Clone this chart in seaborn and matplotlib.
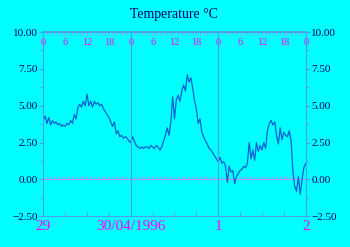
import numpy as np
import pandas as pd
import matplotlib
matplotlib.use("Agg")
import matplotlib.pyplot as plt
import seaborn as sns
from matplotlib.ticker import MultipleLocator

# ---- data (half-hourly temperature, 29/04/1996 00:00 .. 02/05/1996 00:00) ----
temps = [
    4.0, 4.3, 3.8, 4.2, 3.7, 4.0, 3.8, 3.9, 3.7, 3.8, 3.6, 3.7, 3.6, 3.8, 3.7, 4.0,
    3.8, 4.4, 4.1, 4.9, 5.1, 4.9, 5.3, 5.0, 5.8, 5.0, 5.3, 4.9, 5.3, 5.1, 5.2, 5.0,
    5.1, 4.8, 4.6, 4.4, 4.2, 3.9, 3.6, 3.9, 3.1, 3.3, 2.9, 3.0, 2.8, 2.9, 2.8, 2.6,
    2.5, 2.9, 2.6, 2.3, 2.2, 2.1, 2.2, 2.1, 2.2, 2.2, 2.1, 2.3, 2.2, 2.1, 2.3, 2.2,
    2.0, 2.2, 2.6, 3.0, 3.5, 3.0, 3.9, 5.6, 4.1, 5.4, 5.7, 5.3, 6.0, 6.4, 6.0, 7.1,
    6.6, 6.9, 6.2, 5.3, 4.8, 3.8, 4.1, 3.2, 2.9, 2.6, 2.4, 2.1, 2.0, 1.8, 1.6, 1.4,
    1.2, 1.5, 1.1, 1.2, 0.9, -0.2, 0.9, 0.5, 0.6, -0.3, 0.2, 0.4, 0.6, 0.7, 0.9, 0.8,
    1.1, 2.5, 1.4, 2.0, 1.3, 2.5, 1.9, 2.3, 2.0, 2.5, 2.1, 3.3, 3.8, 4.0, 3.7, 3.9,
    3.0, 2.4, 3.5, 2.7, 3.2, 3.0, 2.9, 3.3, 2.6, 0.5, -0.5, -0.8, 0.2, -1.0, 0.0, 0.8,
    1.1,
]
hours = np.arange(len(temps)) * 0.5

title = "Temperature \u00b0C"
y_ticks = [-2.5, 0.0, 2.5, 5.0, 7.5, 10.0]
y_labels = ["\u22122.50", "0.00", "2.50", "5.00", "7.50", "10.00"]
top_ticks = [0, 6, 12, 18, 24, 30, 36, 42, 48, 54, 60, 66, 72]
top_labels = ["0", "6", "12", "18", "0", "6", "12", "18", "0", "6", "12", "18", "0"]
day_ticks = [0, 24, 48, 72]
day_labels = ["29", "30/04/1996", "1", "2"]

BG = "#00ffff"
NAVY = "#000070"
MAG = "#ff00ff"
SPINE = "#4aa0e8"
LINE = "#1460d0"
ZERO = "#b090e8"

sns.set_theme(style="white")
plt.rcParams["font.family"] = ["Liberation Serif", "DejaVu Serif"]

fig = plt.figure(figsize=(3.5, 2.47), dpi=100, facecolor=BG)
ax = fig.add_axes([0.1237, 0.1243, 0.7497, 0.7461])
ax.set_facecolor(BG)

df = pd.DataFrame({"hour": hours, "temp": temps})
sns.lineplot(data=df, x="hour", y="temp", ax=ax, color=LINE, linewidth=0.9)

ax.set_xlim(day_ticks[0], day_ticks[-1])
ax.set_ylim(y_ticks[0], y_ticks[-1])
ax.set_xlabel("")
ax.set_ylabel("")

for s in ax.spines.values():
    s.set_color(SPINE)
    s.set_linewidth(0.8)

# day separators
for d in day_ticks[1:-1]:
    ax.axvline(d, color=SPINE, linewidth=0.8)

# y axis, labels on both sides
ax.set_yticks(y_ticks)
ax.set_yticklabels(y_labels)
ax.yaxis.set_minor_locator(MultipleLocator(1.25))
ax.tick_params(axis="y", which="both", left=True, right=True, labelleft=True,
               labelright=True, direction="out", colors=SPINE, labelcolor=NAVY,
               labelsize=8, pad=1)
ax.tick_params(axis="y", which="major", length=3, width=0.8)
ax.tick_params(axis="y", which="minor", length=2, width=0.6)

# bottom axis: day labels
ax.set_xticks(day_ticks)
ax.set_xticklabels(day_labels)
ax.xaxis.set_minor_locator(MultipleLocator(6))
ax.tick_params(axis="x", which="both", bottom=True, direction="in", colors=SPINE,
               labelcolor=MAG, labelsize=11, pad=3)
ax.tick_params(axis="x", which="major", length=0)
ax.tick_params(axis="x", which="minor", length=3, width=0.6)

# top axis: hours, labels inside
top = ax.secondary_xaxis("top")
top.set_xticks(top_ticks)
top.set_xticklabels(top_labels)
top.xaxis.set_minor_locator(MultipleLocator(1))
top.spines["top"].set_color(SPINE)
top.tick_params(axis="x", which="both", direction="in", colors=ZERO,
                labelcolor=MAG, labelsize=7.5, pad=-11)
top.tick_params(axis="x", which="major", length=3, width=0.6)
top.tick_params(axis="x", which="minor", length=2, width=0.6)

# zero line with hourly ticks
zpos = (0 - y_ticks[0]) / (y_ticks[-1] - y_ticks[0])
zax = ax.secondary_xaxis(zpos)
zax.spines["bottom"].set_color(ZERO)
zax.spines["bottom"].set_linewidth(0.8)
zax.set_xticks(top_ticks)
zax.xaxis.set_minor_locator(MultipleLocator(1))
zax.tick_params(axis="x", which="both", direction="in", colors=ZERO,
                labelbottom=False, length=2.5, width=0.6)

fig.text(0.497, 0.94, title, ha="center", va="center", color=NAVY, fontsize=10)

fig.savefig("out.png", dpi=100, facecolor=BG)
